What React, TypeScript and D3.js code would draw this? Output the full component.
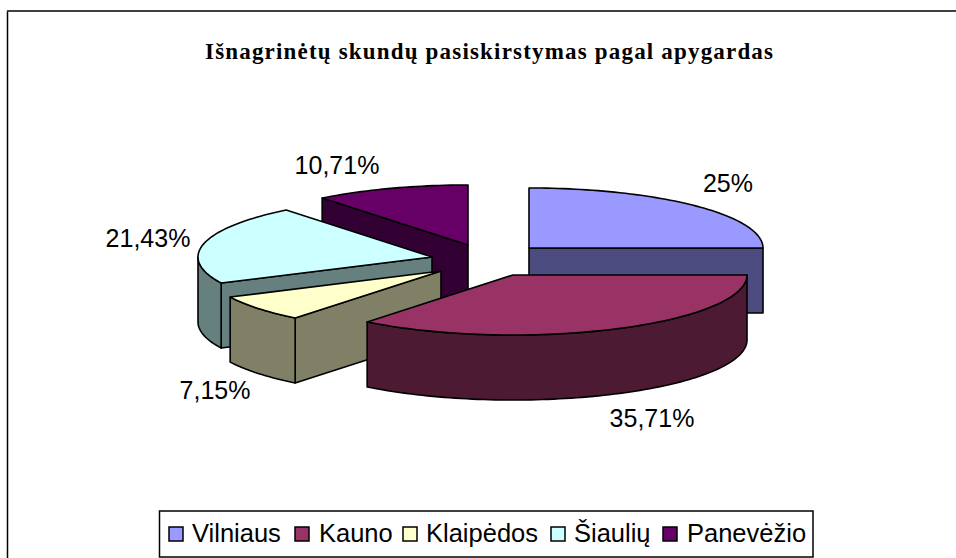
import React from "react";
import * as d3 from "d3";

const categories = ["Vilniaus", "Kauno", "Klaipėdos", "Šiaulių", "Panevėžio"];
const shares = [25, 35.71, 7.15, 21.43, 10.71];
const valueLabels = ["25%", "35,71%", "7,15%", "21,43%", "10,71%"];
const topColors = ["#9999FF", "#993366", "#FFFFCC", "#CCFFFF", "#660066"];
const sideColors = ["#4C4C80", "#4D1A33", "#808066", "#668080", "#330033"];
const titleText = "Išnagrinėtų skundų pasiskirstymas pagal apygardas";

// Layout: the apex of each exploded slice, and where its label sits.
const apexes: [number, number][] = [[529, 248], [513, 275], [441, 271], [432, 257], [468, 245]];
const labelAnchors: [number, number][] = [[728, 192], [652, 427], [215, 399], [148, 247], [337, 174]];
const drawOrder = [4, 3, 2, 0, 1];
const RX = 234, RY = 60, DEPTH = 65;

const slices = d3.pie<number>().sort(null).value((d) => d)(shares);

function arcPts(i: number, a0: number, a1: number, dy: number): [number, number][] {
  const [cx, cy] = apexes[i];
  const sx = d3.scaleLinear().domain([-1, 1]).range([cx - RX, cx + RX]);
  const sy = d3.scaleLinear().domain([-1, 1]).range([cy - RY + dy, cy + RY + dy]);
  const n = Math.max(2, Math.ceil((a1 - a0) * 40));
  return d3.range(n + 1).map((k) => {
    const a = a0 + ((a1 - a0) * k) / n;
    return [sx(Math.sin(a)), sy(-Math.cos(a))];
  });
}
const line = d3.line();
const closed = (p: [number, number][]) => (line(p) ?? "") + "Z";

function Slice({ i }: { i: number }) {
  const { startAngle: a, endAngle: b } = slices[i];
  const [cx, cy] = apexes[i];
  const top = arcPts(i, a, b, 0);
  const sw = { stroke: "#000", strokeWidth: 1.6, strokeLinejoin: "round" as const };
  const walls: [number, number][][] = [];
  const radial = (ang: number) => {
    const p = arcPts(i, ang, ang, 0)[0];
    walls.push([[cx, cy], p, [p[0], p[1] + DEPTH], [cx, cy + DEPTH]]);
  };
  if (-Math.sin(a) > 1e-6) radial(a);
  if (Math.sin(b) > 1e-6) radial(b);
  const oa = Math.max(a, Math.PI / 2), ob = Math.min(b, (3 * Math.PI) / 2);
  if (ob > oa && i !== 0) {
    walls.push([...arcPts(i, oa, ob, 0), ...arcPts(i, oa, ob, DEPTH).reverse()]);
  }
  return (
    <g>
      {walls.map((w, k) => <path key={k} d={closed(w)} fill={sideColors[i]} {...sw} />)}
      <path d={closed([[cx, cy], ...top])} fill={topColors[i]} {...sw} />
    </g>
  );
}

const legendSwatchX = [169, 295, 403, 551, 663];
const legendTextX = [192, 319, 426, 574, 687];

export default function App() {
  return (
    <svg width={956} height={558} style={{ position: "absolute", left: 0, top: 0, background: "#fff" }}>
      <path d="M7.5 558V11" fill="none" stroke="#000" strokeWidth={1.5} />
      <path d="M7 11H956" fill="none" stroke="#404040" strokeWidth={2} />
      <text x={489} y={59} textAnchor="middle" fontFamily="Liberation Serif" fontWeight="bold" fontSize={23} textLength={568} lengthAdjust="spacing">{titleText}</text>
      {drawOrder.map((i) => <Slice key={i} i={i} />)}
      {valueLabels.map((t, i) => (
        <text key={i} x={labelAnchors[i][0]} y={labelAnchors[i][1]} textAnchor="middle" fontFamily="Liberation Sans" fontSize={25}>{t}</text>
      ))}
      <rect x={159.5} y={511} width={653.5} height={46} fill="#fff" stroke="#000" strokeWidth={1.5} />
      {categories.map((c, i) => (
        <g key={c}>
          <rect x={legendSwatchX[i]} y={527} width={14} height={14} fill={topColors[i]} stroke="#000" strokeWidth={1.5} />
          <text x={legendTextX[i]} y={542} fontFamily="Liberation Sans" fontSize={25.5}>{c}</text>
        </g>
      ))}
    </svg>
  );
}
